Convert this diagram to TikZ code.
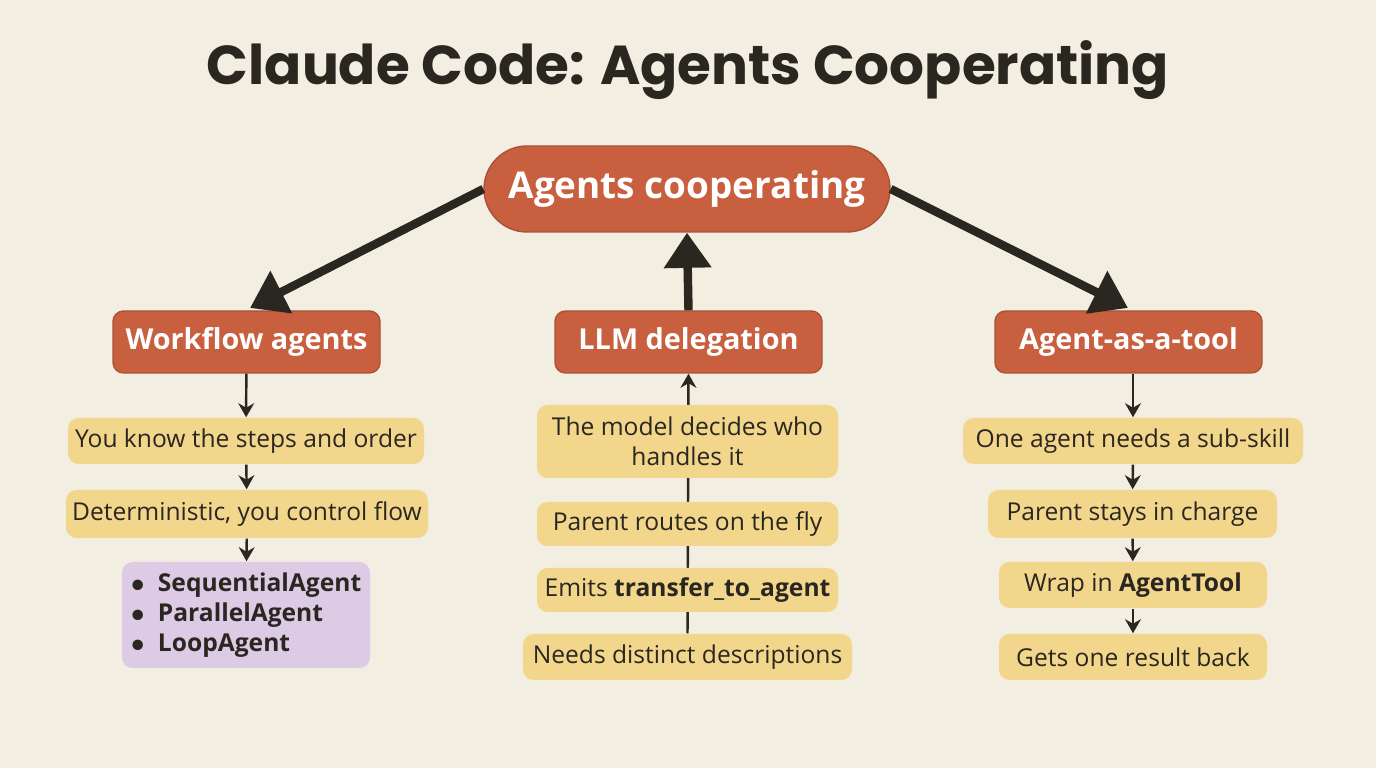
\documentclass[tikz,border=0pt]{standalone}
\usepackage{fontspec}
\setmainfont{Open Sans}
\newfontfamily\titlefont{Poppins}
\usetikzlibrary{arrows.meta,positioning,backgrounds}
\definecolor{bgcol}{HTML}{F3EEE2}
\definecolor{rust}{HTML}{C8603F}
\definecolor{sand}{HTML}{F2D68C}
\definecolor{lilac}{HTML}{DDCBE6}
\definecolor{ink}{HTML}{2A2620}
\tikzset{
    head/.style={fill=rust, draw=rust!85!black, line width=0.4pt, text=white, font=\bfseries\fontsize{8.2}{10}\selectfont, minimum width=2.67cm, minimum height=0.62cm, rounded corners=3pt},
    item/.style={fill=sand, text=ink, font=\fontsize{7}{8.5}\selectfont, minimum height=0.46cm, rounded corners=3pt, inner sep=1pt, align=center},
    big/.style={-{Triangle[length=10pt,width=13pt]}, line width=2.4pt, draw=ink},
    small/.style={-{Stealth[length=4pt,width=4.5pt]}, line width=0.7pt, draw=ink}
}
\begin{document}
\begin{tikzpicture}[x=1cm,y=1cm]
    \node[font=\titlefont\bfseries\fontsize{15.6}{18}\selectfont, text=ink] (title) at (6.88,6.98) {Claude Code: Agents Cooperating};
    \node[head, rounded corners=0.43cm, minimum width=4.06cm, minimum height=0.86cm, font=\bfseries\fontsize{10.5}{12}\selectfont] (root) at (6.87,5.79) {Agents cooperating};
    % three branches
    \node[head] (wf) at (2.465,4.26) {Workflow agents};
    \node[head] (llm) at (6.885,4.26) {LLM delegation};
    \node[head] (tool) at (11.285,4.26) {Agent-as-a-tool};
    \draw[big] (root.west) -- (2.5,4.60);
    \draw[big] (root.east) -- (11.28,4.60);
    \draw[big] (llm.north) -- (root.south);
    % left column
    \node[item, minimum width=3.56cm] (wf1) at (2.46,3.27) {You know the steps and order};
    \node[item, minimum width=3.62cm, minimum height=0.48cm] (wf2) at (2.47,2.54) {Deterministic, you control flow};
    \node[fill=lilac, rounded corners=3pt, minimum width=2.48cm, minimum height=1.06cm, inner sep=2pt, align=left, text=ink, font=\bfseries\fontsize{7}{8.6}\selectfont] (wf3) at (2.46,1.53)
        {$\bullet$\ \ SequentialAgent\\$\bullet$\ \ ParallelAgent\\$\bullet$\ \ LoopAgent};
    \draw[small] (wf) -- (wf1);
    \draw[small] (wf1) -- (wf2);
    \draw[small] (wf2) -- (wf3);
    % middle column
    \node[item, minimum width=3.01cm, minimum height=0.73cm] (llm1) at (6.875,3.265) {The model decides who\\handles it};
    \node[item, minimum width=3.01cm, minimum height=0.44cm] (llm2) at (6.875,2.44) {Parent routes on the fly};
    \node[item, minimum width=3.01cm, minimum height=0.44cm] (llm3) at (6.875,1.78) {Emits \textbf{transfer\_to\_agent}};
    \node[item, minimum width=3.29cm] (llm4) at (6.875,1.11) {Needs distinct descriptions};
    \begin{pgfonlayer}{background}
        \fill[bgcol] (0,0) rectangle (13.76,7.68);
        \draw[small] (llm4.north) -- (llm.south);
    \end{pgfonlayer}
    % right column
    \node[item, minimum width=3.40cm] (tl1) at (11.33,3.27) {One agent needs a sub-skill};
    \node[item, minimum width=2.89cm, minimum height=0.48cm] (tl2) at (11.325,2.54) {Parent stays in charge};
    \node[item, minimum width=2.68cm] (tl3) at (11.33,1.83) {Wrap in \textbf{AgentTool}};
    \node[item, minimum width=2.68cm] (tl4) at (11.33,1.11) {Gets one result back};
    \draw[small] (tool.south -| tl1.north) -- (tl1);
    \draw[small] (tl1) -- (tl2);
    \draw[small] (tl2) -- (tl3);
    \draw[small] (tl3) -- (tl4);
\end{tikzpicture}
\end{document}
